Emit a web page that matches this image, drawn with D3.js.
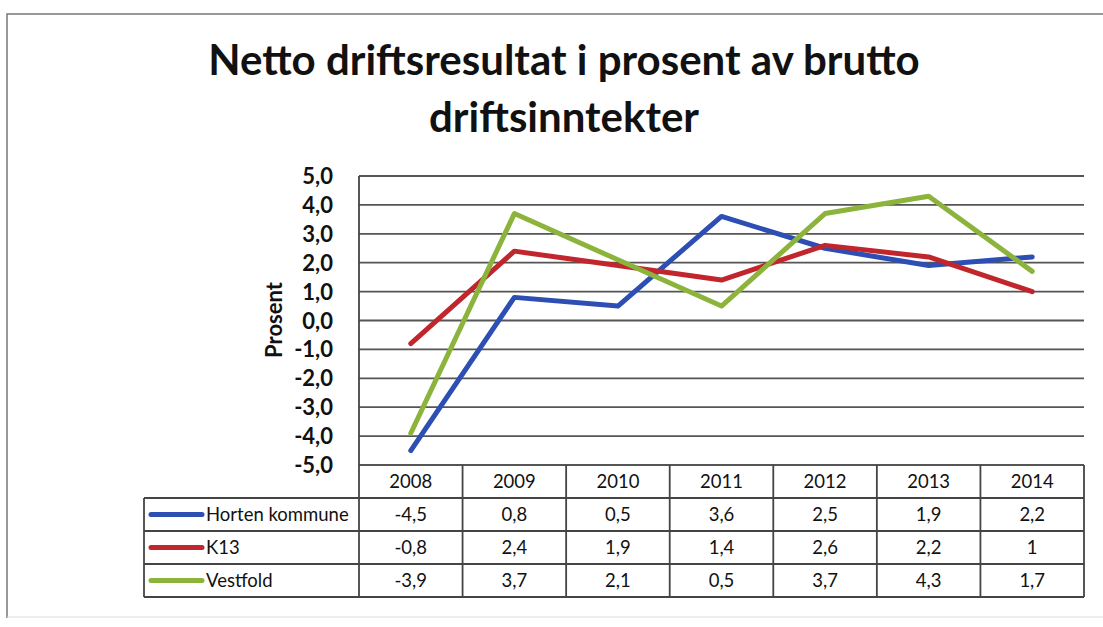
<!DOCTYPE html>
<html>
<head>
<meta charset="utf-8">
<script src="https://cdn.jsdelivr.net/npm/d3@7"></script>
<style>
  body { margin: 0; background: #fff; }
  svg { display: block; font-family: Lato, 'Open Sans', sans-serif; }
</style>
</head>
<body>
<div id="vis"></div>
<script>
var width = 1103,
    height = 627;

// data
var years = ["2008", "2009", "2010", "2011", "2012", "2013", "2014"];
var seriesNames = ["Horten kommune", "K13", "Vestfold"];
var horten = [-4.5, 0.8, 0.5, 3.6, 2.5, 1.9, 2.2];
var k13 = [-0.8, 2.4, 1.9, 1.4, 2.6, 2.2, 1];
var vestfold = [-3.9, 3.7, 2.1, 0.5, 3.7, 4.3, 1.7];
var yTicks = [5, 4, 3, 2, 1, 0, -1, -2, -3, -4, -5];
var colors = ["#2d4fb3", "#c0262c", "#8cb43c"];

var series = [horten, k13, vestfold];

var svg = d3.select("#vis").append("svg")
    .attr("width", width)
    .attr("height", height);

// outer frame (scanned chart border)
svg.append("path")
    .attr("d", "M7,618 L7,14 L1103,14")
    .attr("fill", "none")
    .attr("stroke", "#777")
    .attr("stroke-width", 1.5);
svg.append("line")
    .attr("x1", 7).attr("x2", 1103)
    .attr("y1", 617).attr("y2", 617)
    .attr("stroke", "#ddd").attr("stroke-width", 1);

// title
var title = svg.append("text")
    .attr("text-anchor", "middle")
    .style("font-weight", "bold")
    .style("font-size", "42px")
    .style("fill", "#111");
title.append("tspan").attr("x", 564).attr("y", 75).text("Netto driftsresultat i prosent av brutto");
title.append("tspan").attr("x", 564).attr("y", 132).text("driftsinntekter");

var plotLeft = 359, plotRight = 1084, plotTop = 176, plotBottom = 465;

var x = d3.scaleBand()
    .domain(years)
    .range([plotLeft, plotRight]);

var y = d3.scaleLinear()
    .domain([-5, 5])
    .range([plotBottom, plotTop]);

// gridlines
svg.append("g")
    .selectAll("line")
    .data(yTicks)
    .enter()
    .append("line")
    .attr("x1", plotLeft)
    .attr("x2", plotRight)
    .attr("y1", function(d) { return y(d); })
    .attr("y2", function(d) { return y(d); })
    .attr("stroke", "#555")
    .attr("stroke-width", 1.8);

// y axis labels
svg.append("g")
    .selectAll("text")
    .data(yTicks)
    .enter()
    .append("text")
    .attr("x", 333)
    .attr("y", function(d) { return y(d) + 8; })
    .attr("text-anchor", "end")
    .style("font-size", "22px")
    .style("font-weight", "bold")
    .style("fill", "#111")
    .text(function(d) { return d3.format(".1f")(d).replace(".", ",").replace("−", "-"); });

svg.append("text")
    .attr("transform", "translate(282,320) rotate(-90)")
    .attr("text-anchor", "middle")
    .style("font-size", "22px")
    .style("font-weight", "bold")
    .style("fill", "#111")
    .text("Prosent");

// data table
var rowH = 33;
var tableTop = plotBottom, tableLeft = 144;
var tg = svg.append("g")
    .attr("stroke", "#444")
    .attr("stroke-width", 1.8)
    .attr("fill", "none");

// horizontal rules
d3.range(4).forEach(function(i) {
    var yy = tableTop + rowH * (i + 1);
    tg.append("line")
        .attr("x1", tableLeft).attr("x2", plotRight)
        .attr("y1", yy).attr("y2", yy);
});
// vertical rules
tg.append("line")
    .attr("x1", plotLeft).attr("x2", plotLeft)
    .attr("y1", plotTop).attr("y2", tableTop + rowH * 4);
years.forEach(function(yr) {
    var xx = x(yr) + x.bandwidth();
    tg.append("line")
        .attr("x1", xx).attr("x2", xx)
        .attr("y1", tableTop).attr("y2", tableTop + rowH * 4);
});
tg.append("line")
    .attr("x1", tableLeft).attr("x2", tableLeft)
    .attr("y1", tableTop + rowH).attr("y2", tableTop + rowH * 4);

// header years
svg.append("g")
    .selectAll("text")
    .data(years)
    .enter()
    .append("text")
    .attr("x", function(d) { return x(d) + x.bandwidth() / 2; })
    .attr("y", tableTop + 23)
    .attr("text-anchor", "middle")
    .style("font-size", "18.5px")
    .style("fill", "#111")
    .text(function(d) { return d; });

function fmt(v) {
    return String(v).replace(".", ",");
}

series.forEach(function(vals, i) {
    var rowY = tableTop + rowH * (i + 1);
    svg.append("line")
        .attr("x1", 151).attr("x2", 202)
        .attr("y1", rowY + rowH / 2).attr("y2", rowY + rowH / 2)
        .attr("stroke", colors[i])
        .attr("stroke-width", 5)
        .attr("stroke-linecap", "round");
    svg.append("text")
        .attr("x", 206)
        .attr("y", rowY + 23)
        .style("font-size", "18.5px")
        .style("fill", "#111")
        .text(seriesNames[i]);
    svg.append("g")
        .selectAll("text")
        .data(vals)
        .enter()
        .append("text")
        .attr("x", function(d, j) { return x(years[j]) + x.bandwidth() / 2; })
        .attr("y", rowY + 23)
        .attr("text-anchor", "middle")
        .style("font-size", "18.5px")
        .style("fill", "#111")
        .text(function(d) { return fmt(d); });
});

// lines
var line = d3.line()
    .x(function(d, j) { return x(years[j]) + x.bandwidth() / 2; })
    .y(function(d) { return y(d); });

series.forEach(function(vals, i) {
    svg.append("path")
        .attr("d", line(vals))
        .attr("fill", "none")
        .attr("stroke", colors[i])
        .attr("stroke-width", 5)
        .attr("stroke-linejoin", "round")
        .attr("stroke-linecap", "round");
});
</script>
</body>
</html>
